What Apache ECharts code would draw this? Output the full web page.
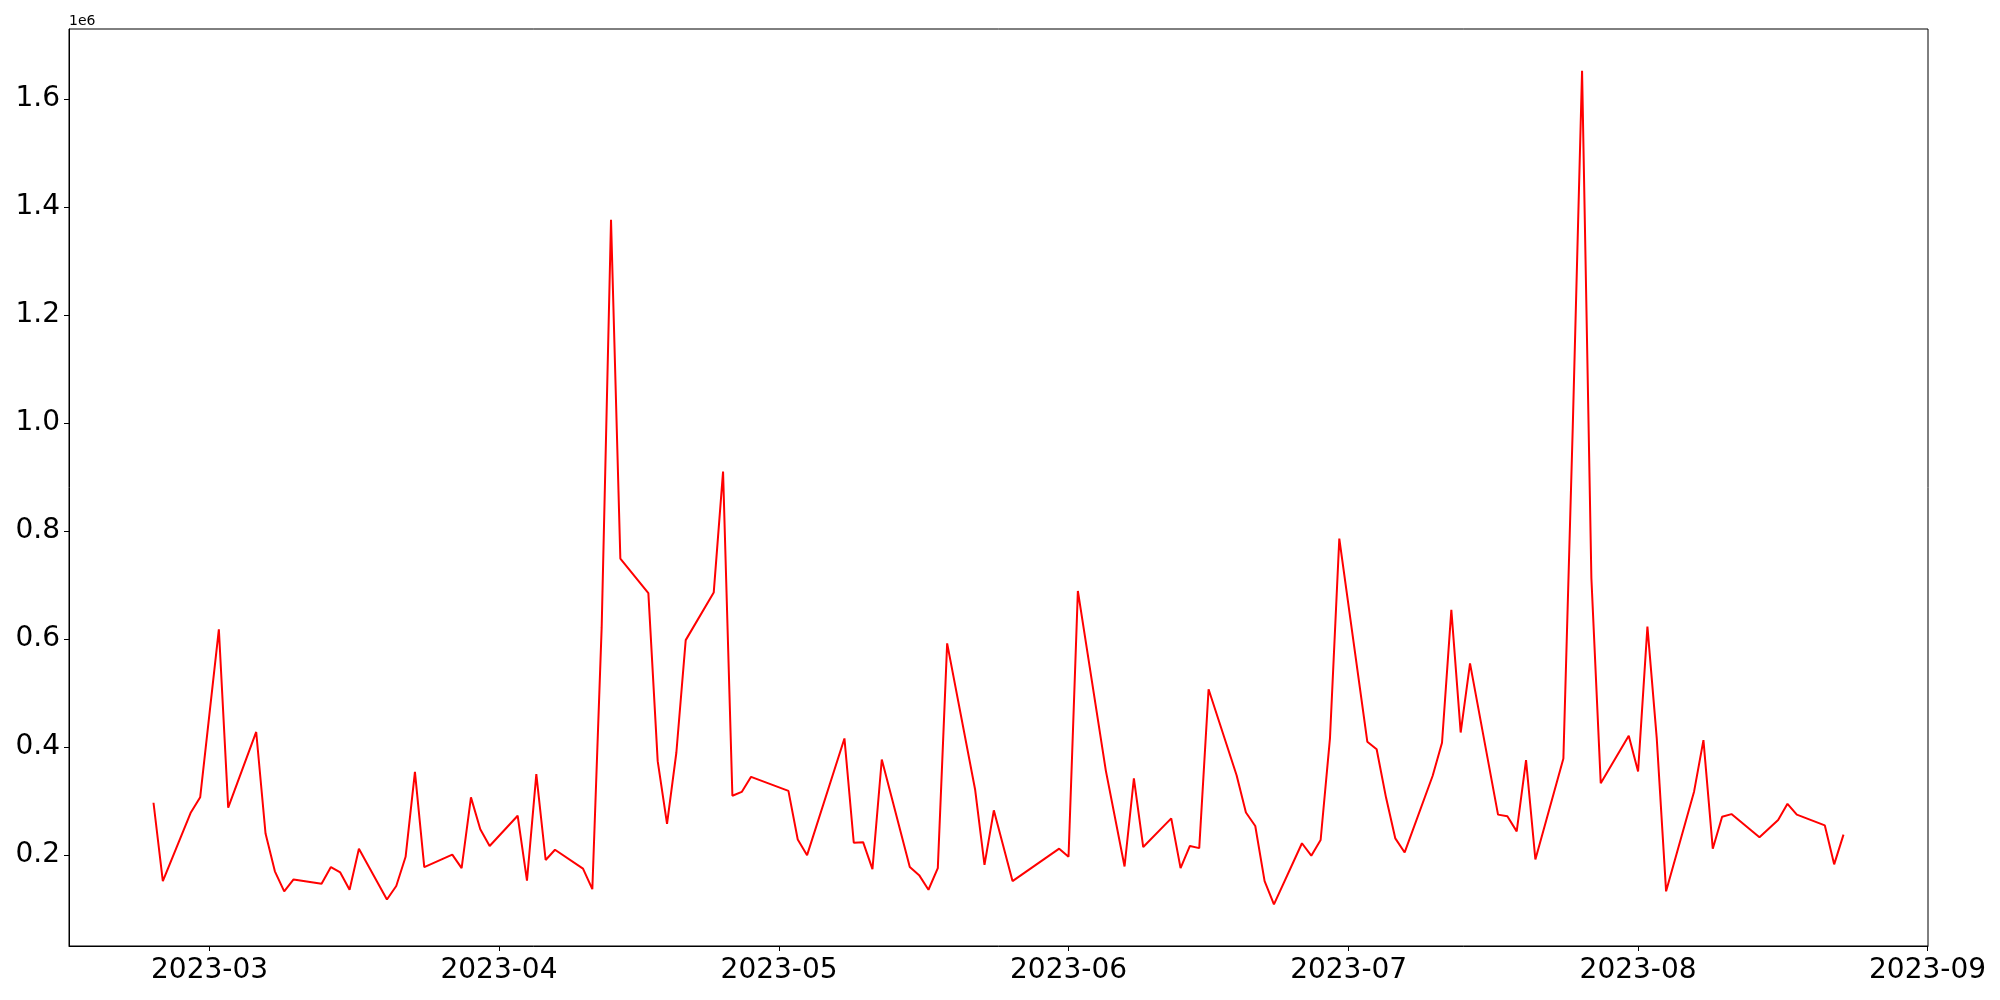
<!DOCTYPE html>
<html>
<head>
<meta charset="utf-8">
<script src="https://cdn.jsdelivr.net/npm/echarts@6/dist/echarts.min.js"></script>
<style>
html,body{margin:0;padding:0;background:#fff;}
#chart{width:2000px;height:1000px;}
</style>
</head>
<body>
<div id="chart"></div>
<script>
// ---- data ----
const dates = [
  '2023-02-23','2023-02-24','2023-02-27','2023-02-28','2023-03-02','2023-03-03',
  '2023-03-06','2023-03-07','2023-03-08','2023-03-09','2023-03-10',
  '2023-03-13','2023-03-14','2023-03-15','2023-03-16','2023-03-17',
  '2023-03-20','2023-03-21','2023-03-22','2023-03-23','2023-03-24',
  '2023-03-27','2023-03-28','2023-03-29','2023-03-30','2023-03-31',
  '2023-04-03','2023-04-04','2023-04-05','2023-04-06','2023-04-07',
  '2023-04-10','2023-04-11','2023-04-12','2023-04-13','2023-04-14',
  '2023-04-17','2023-04-18','2023-04-19','2023-04-20','2023-04-21',
  '2023-04-24','2023-04-25','2023-04-26','2023-04-27','2023-04-28',
  '2023-05-02','2023-05-03','2023-05-04',
  '2023-05-08','2023-05-09','2023-05-10','2023-05-11','2023-05-12',
  '2023-05-15','2023-05-16','2023-05-17','2023-05-18','2023-05-19',
  '2023-05-22','2023-05-23','2023-05-24','2023-05-26',
  '2023-05-31','2023-06-01','2023-06-02',
  '2023-06-05','2023-06-07','2023-06-08','2023-06-09',
  '2023-06-12','2023-06-13','2023-06-14','2023-06-15','2023-06-16',
  '2023-06-19','2023-06-20','2023-06-21','2023-06-22','2023-06-23',
  '2023-06-26','2023-06-27','2023-06-28','2023-06-29','2023-06-30',
  '2023-07-03','2023-07-04','2023-07-05','2023-07-06','2023-07-07',
  '2023-07-10','2023-07-11','2023-07-12','2023-07-13','2023-07-14',
  '2023-07-17','2023-07-18','2023-07-19','2023-07-20','2023-07-21',
  '2023-07-24','2023-07-25','2023-07-26','2023-07-27','2023-07-28',
  '2023-07-31','2023-08-01','2023-08-02','2023-08-03','2023-08-04',
  '2023-08-07','2023-08-08','2023-08-09','2023-08-10','2023-08-11',
  '2023-08-14','2023-08-16','2023-08-17','2023-08-18',
  '2023-08-21','2023-08-22','2023-08-23'
];
const values = [
  297000,152000,279000,307000,618000,288000,
  428000,240000,170000,133000,155000,
  147000,178000,168000,136000,212000,
  118000,143000,197000,354000,178000,
  201000,176000,307000,248000,217000,
  273000,153000,350000,191000,210000,
  175000,137000,622000,1376000,749000,
  685000,374000,258000,390000,598000,
  686000,910000,310000,317000,345000,
  319000,229000,200000,
  416000,223000,224000,174000,377000,
  178000,163000,136000,176000,592000,
  321000,182000,283000,152000,
  212000,197000,689000,
  356000,179000,342000,215000,
  268000,176000,217000,213000,507000,
  348000,279000,254000,152000,109000,
  222000,199000,228000,416000,786000,
  410000,396000,307000,231000,205000,
  347000,408000,654000,427000,555000,
  275000,272000,244000,376000,192000,
  379000,990000,1652000,712000,333000,
  421000,355000,623000,416000,133000,
  318000,413000,212000,271000,276000,
  233000,265000,295000,275000,
  255000,183000,238000
];
const xTickLabels = ['2023-03','2023-04','2023-05','2023-06','2023-07','2023-08','2023-09'];
const yTickValues = [200000,400000,600000,800000,1000000,1200000,1400000,1600000];

// ---- helpers ----
function ts(s){ const p = s.split('-').map(Number); return Date.UTC(p[0], p[1]-1, p[2] || 1); }
const xs = dates.map(ts);
const seriesData = xs.map((t,i)=>[t, values[i]]);
const xTickValues = xTickLabels.map(ts);
const labelOf = {};
xTickValues.forEach((t,i)=>{ labelOf[t] = xTickLabels[i]; });

const xMinD = Math.min(...xs), xMaxD = Math.max(...xs);
const xPad = (xMaxD - xMinD) * 0.05;
const yMinD = Math.min(...values), yMaxD = Math.max(...values);
const yPad = (yMaxD - yMinD) * 0.05;

const FONT = 'DejaVu Sans';
const chart = echarts.init(document.getElementById('chart'), null, {renderer:'canvas'});
chart.setOption({
  animation: false,
  backgroundColor: '#ffffff',
  grid: { left: 69, right: 72, top: 29, bottom: 54, show: true, borderColor: '#000', borderWidth: 1, backgroundColor: 'transparent' },
  xAxis: {
    type: 'value',
    min: xMinD - xPad,
    max: xMaxD + xPad,
    axisLine: { show: true, lineStyle: { color: '#000', width: 1 } },
    axisTick: { show: true, length: 5, lineStyle: { color: '#000', width: 1 }, customValues: xTickValues },
    axisLabel: {
      customValues: xTickValues,
      formatter: function(v){
        if (labelOf[v]) return labelOf[v];
        const d = new Date(v); return d.getUTCFullYear() + '-' + String(d.getUTCMonth()+1).padStart(2,'0');
      },
      fontFamily: FONT, fontSize: 28, color: '#000', margin: 11, hideOverlap: false,
      showMinLabel: true, showMaxLabel: true
    },
    splitLine: { show: false }
  },
  yAxis: {
    type: 'value',
    min: yMinD - yPad,
    max: yMaxD + yPad,
    axisLine: { show: true, lineStyle: { color: '#000', width: 1 } },
    axisTick: { show: true, length: 5, lineStyle: { color: '#000', width: 1 }, customValues: yTickValues },
    axisLabel: {
      customValues: yTickValues,
      formatter: function(v){ return (v/1e6).toFixed(1); },
      fontFamily: FONT, fontSize: 28, color: '#000', margin: 9
    },
    splitLine: { show: false }
  },
  graphic: [{
    type: 'text', left: 69, top: 14,
    style: { text: '1e6', fontFamily: FONT, fontSize: 14, fill: '#000' }
  }],
  series: [{
    type: 'line',
    data: seriesData,
    showSymbol: false,
    symbol: 'none',
    lineStyle: { color: '#ff0000', width: 2 },
    emphasis: { disabled: true }
  }]
});
</script>
</body>
</html>
